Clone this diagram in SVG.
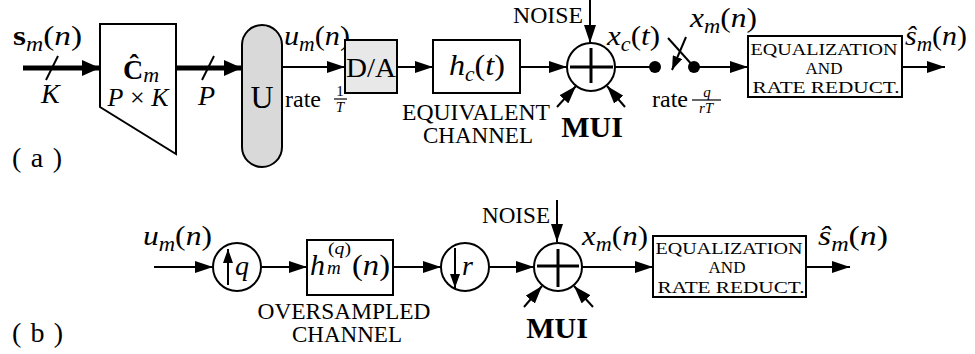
<svg xmlns="http://www.w3.org/2000/svg" width="975" height="354" viewBox="0 0 975 354">
<style>
.ln{stroke:#000;stroke-width:2;fill:none}
.tk{stroke:#000;stroke-width:5;fill:none}
.box{fill:#fff;stroke:#000;stroke-width:2}
.pl{stroke:#000;stroke-width:3;fill:none}
text{font-family:"Liberation Serif","DejaVu Serif",serif;fill:#000}
.i{font-style:italic}
.n{font-style:normal}
.b{font-weight:bold}
.m{font-size:28px}
.s{font-size:20px;font-style:italic}
.cap{font-size:23px}
.eq{font-size:17px}
.mui{font-size:30px;font-weight:bold}
</style>
<defs>
<marker id="ah" markerUnits="userSpaceOnUse" markerWidth="18" markerHeight="12" refX="18" refY="6" orient="auto"><path d="M0,0 L18,6 L0,12 z" fill="#000"/></marker>
<marker id="ahs" markerUnits="userSpaceOnUse" markerWidth="14" markerHeight="10" refX="14" refY="5" orient="auto"><path d="M0,0 L14,5 L0,10 z" fill="#000"/></marker>
<marker id="aht" markerUnits="userSpaceOnUse" markerWidth="18" markerHeight="16" refX="18" refY="8" orient="auto"><path d="M0,0 L18,8 L0,16 z" fill="#000"/></marker>
</defs>

<g id="connectors">
<!-- (a) -->
<line class="tk" x1="23" y1="68" x2="100" y2="68" marker-end="url(#aht)"/>
<line class="ln" x1="46" y1="80" x2="58" y2="56"/>
<line class="tk" x1="176" y1="68" x2="242" y2="68" marker-end="url(#aht)"/>
<line class="ln" x1="202" y1="80" x2="214" y2="56"/>
<line class="ln" x1="282" y1="67" x2="345" y2="67" marker-end="url(#ah)"/>
<line class="ln" x1="397" y1="67" x2="433" y2="67" marker-end="url(#ah)"/>
<line class="ln" x1="520" y1="67" x2="567" y2="67" marker-end="url(#ah)"/>
<line class="ln" x1="590" y1="0" x2="590" y2="43" marker-end="url(#ah)"/>
<line class="ln" x1="557" y1="107" x2="576" y2="86" marker-end="url(#ah)"/>
<line class="ln" x1="625" y1="107" x2="607" y2="86" marker-end="url(#ah)"/>
<line class="ln" x1="615" y1="67" x2="655" y2="67"/>
<line class="ln" x1="668" y1="38" x2="694" y2="67"/>
<line class="ln" x1="686" y1="37" x2="672" y2="70" marker-end="url(#ahs)"/>
<line class="ln" x1="694" y1="67" x2="748" y2="67" marker-end="url(#ah)"/>
<line class="ln" x1="902" y1="67" x2="945" y2="67" marker-end="url(#ah)"/>
<!-- (b) -->
<line class="ln" x1="154" y1="267" x2="213" y2="267" marker-end="url(#ah)"/>
<line class="ln" x1="261" y1="267" x2="307" y2="267" marker-end="url(#ah)"/>
<line class="ln" x1="393" y1="267" x2="441" y2="267" marker-end="url(#ah)"/>
<line class="ln" x1="489" y1="267" x2="534" y2="267" marker-end="url(#ah)"/>
<line class="ln" x1="557" y1="200" x2="557" y2="242" marker-end="url(#ah)"/>
<line class="ln" x1="524" y1="307" x2="542" y2="286" marker-end="url(#ah)"/>
<line class="ln" x1="593" y1="307" x2="574" y2="286" marker-end="url(#ah)"/>
<line class="ln" x1="582" y1="267" x2="653" y2="267" marker-end="url(#ah)"/>
<line class="ln" x1="806" y1="267" x2="850" y2="267" marker-end="url(#ah)"/>
</g>

<!-- labels (a) -->
<text x="13" y="45" class="m" textLength="69" lengthAdjust="spacingAndGlyphs"><tspan class="b">s</tspan><tspan class="s" dy="6">m</tspan><tspan dy="-6">(</tspan><tspan class="i">n</tspan>)</text>
<text x="41" y="103" class="m i">K</text>
<text x="198" y="105" class="m i">P</text>
<text x="284" y="45" class="m" textLength="66" lengthAdjust="spacingAndGlyphs"><tspan class="i">u</tspan><tspan class="s" dy="6">m</tspan><tspan dy="-6">(</tspan><tspan class="i">n</tspan>)</text>
<text x="285" y="107" style="font-size:24px">rate</text>
<text x="340" y="96" style="font-size:15px" text-anchor="middle">1</text>
<line class="ln" x1="334" y1="99" x2="347" y2="99" style="stroke-width:1.2"/>
<text x="340" y="112" style="font-size:15px" class="i" text-anchor="middle">T</text>
<text x="476" y="120" class="cap" text-anchor="middle" textLength="148" lengthAdjust="spacingAndGlyphs">EQUIVALENT</text>
<text x="478" y="143" class="cap" text-anchor="middle" textLength="110" lengthAdjust="spacingAndGlyphs">CHANNEL</text>
<text x="513" y="23" class="cap" textLength="70" lengthAdjust="spacingAndGlyphs">NOISE</text>
<text x="592" y="137" class="mui" text-anchor="middle">MUI</text>
<text x="607" y="45" class="m" textLength="53" lengthAdjust="spacingAndGlyphs"><tspan class="i">x</tspan><tspan class="s" dy="6">c</tspan><tspan dy="-6">(</tspan><tspan class="i">t</tspan>)</text>
<text x="690" y="27" class="m" textLength="67" lengthAdjust="spacingAndGlyphs"><tspan class="i">x</tspan><tspan class="s" dy="6">m</tspan><tspan dy="-6">(</tspan><tspan class="i">n</tspan>)</text>
<text x="652" y="107" style="font-size:24px">rate</text>
<text x="707" y="97" style="font-size:15px" class="i" text-anchor="middle">q</text>
<line class="ln" x1="692" y1="100" x2="721" y2="100" style="stroke-width:1.2"/>
<text x="706" y="113" style="font-size:15px" class="i" text-anchor="middle">rT</text>
<text x="905" y="45" class="m" textLength="62" lengthAdjust="spacingAndGlyphs"><tspan class="i">ŝ</tspan><tspan class="s" dy="6">m</tspan><tspan dy="-6">(</tspan><tspan class="i">n</tspan>)</text>
<text x="12" y="167" class="m" textLength="50" lengthAdjust="spacing">( a )</text>

<!-- labels (b) -->
<text x="143" y="245" class="m" textLength="69" lengthAdjust="spacingAndGlyphs"><tspan class="i">u</tspan><tspan class="s" dy="6">m</tspan><tspan dy="-6">(</tspan><tspan class="i">n</tspan>)</text>
<text x="344" y="319" class="cap" text-anchor="middle" textLength="173" lengthAdjust="spacingAndGlyphs">OVERSAMPLED</text>
<text x="347" y="342" class="cap" text-anchor="middle" textLength="110" lengthAdjust="spacingAndGlyphs">CHANNEL</text>
<text x="482" y="223" class="cap" textLength="68" lengthAdjust="spacingAndGlyphs">NOISE</text>
<text x="557" y="338" class="mui" text-anchor="middle">MUI</text>
<text x="582" y="245" class="m" textLength="66" lengthAdjust="spacingAndGlyphs"><tspan class="i">x</tspan><tspan class="s" dy="6">m</tspan><tspan dy="-6">(</tspan><tspan class="i">n</tspan>)</text>
<text x="818" y="245" class="m" textLength="70" lengthAdjust="spacingAndGlyphs"><tspan class="i">ŝ</tspan><tspan class="s" dy="6">m</tspan><tspan dy="-6">(</tspan><tspan class="i">n</tspan>)</text>
<text x="12" y="342" class="m" textLength="51" lengthAdjust="spacing">( b )</text>

<!-- nodes (a) -->
<g id="cmat">
<polygon class="box" points="100,24 176,24 176,154 100,107"/>
<text x="123" y="79" class="m"><tspan class="b">Ĉ</tspan><tspan class="s" dy="3" style="font-size:22px">m</tspan></text>
<text x="138" y="106" style="font-size:26px" text-anchor="middle" textLength="61" lengthAdjust="spacing"><tspan class="i">P</tspan> × <tspan class="i">K</tspan></text>
</g>
<g id="ublock">
<rect x="242" y="25" width="40" height="142" rx="20" ry="20" fill="#d9d9d9" stroke="#000" stroke-width="2"/>
<text x="262" y="108" style="font-size:32px" text-anchor="middle">U</text>
</g>
<g id="da">
<rect x="345" y="40" width="52" height="53" fill="#e8e8e8" stroke="#000" stroke-width="2"/>
<text x="371" y="77" style="font-size:27px" text-anchor="middle" textLength="50" lengthAdjust="spacingAndGlyphs">D/A</text>
</g>
<g id="hc">
<rect class="box" x="433" y="40" width="87" height="53"/>
<text x="449" y="75" class="m" style="font-size:30px" textLength="56" lengthAdjust="spacingAndGlyphs"><tspan class="i">h</tspan><tspan class="s" dy="6">c</tspan><tspan dy="-6">(</tspan><tspan class="i">t</tspan>)</text>
</g>
<g id="suma">
<circle cx="591" cy="67" r="24" fill="#fff" stroke="#000" stroke-width="2"/>
<line class="pl" x1="570" y1="67" x2="613" y2="67"/>
<line class="pl" x1="591" y1="48" x2="591" y2="83"/>
</g>
<g id="sampler">
<circle cx="655" cy="67" r="6" fill="#000"/>
<circle cx="694" cy="67" r="6" fill="#000"/>
</g>
<g id="eqa">
<rect class="box" x="748" y="36" width="154" height="61"/>
<text x="824" y="55" class="eq" text-anchor="middle" textLength="147" lengthAdjust="spacingAndGlyphs">EQUALIZATION</text>
<text x="824" y="74" class="eq" text-anchor="middle">AND</text>
<text x="826" y="93" class="eq" text-anchor="middle" textLength="147" lengthAdjust="spacingAndGlyphs">RATE REDUCT.</text>
</g>

<!-- nodes (b) -->
<g id="upq">
<circle cx="237" cy="267" r="24" fill="#fff" stroke="#000" stroke-width="2"/>
<line class="ln" x1="228" y1="285" x2="228" y2="249" marker-end="url(#ahs)"/>
<text x="235" y="275" class="m i">q</text>
</g>
<g id="hq">
<rect class="box" x="307" y="240" width="86" height="55"/>
<text x="310" y="275" class="m" style="font-size:30px"><tspan class="i">h</tspan></text>
<text x="328" y="254" style="font-size:16px" textLength="23" lengthAdjust="spacingAndGlyphs">(<tspan class="i">q</tspan>)</text>
<text x="327" y="274" class="s" style="font-size:19px">m</text>
<text x="352" y="275" class="m" style="font-size:30px" textLength="38" lengthAdjust="spacingAndGlyphs">(<tspan class="i">n</tspan>)</text>
</g>
<g id="downr">
<circle cx="465" cy="267" r="24" fill="#fff" stroke="#000" stroke-width="2"/>
<line class="ln" x1="455" y1="248" x2="455" y2="288" marker-end="url(#ahs)"/>
<text x="462" y="275" class="m i">r</text>
</g>
<g id="sumb">
<circle cx="558" cy="267" r="24" fill="#fff" stroke="#000" stroke-width="2"/>
<line class="pl" x1="537" y1="266" x2="579" y2="266"/>
<line class="pl" x1="558" y1="249" x2="558" y2="287"/>
</g>
<g id="eqb">
<rect class="box" x="653" y="236" width="153" height="61"/>
<text x="729" y="254" class="eq" text-anchor="middle" textLength="147" lengthAdjust="spacingAndGlyphs">EQUALIZATION</text>
<text x="727" y="273" class="eq" text-anchor="middle">AND</text>
<text x="731" y="293" class="eq" text-anchor="middle" textLength="147" lengthAdjust="spacingAndGlyphs">RATE REDUCT.</text>
</g>
</svg>
